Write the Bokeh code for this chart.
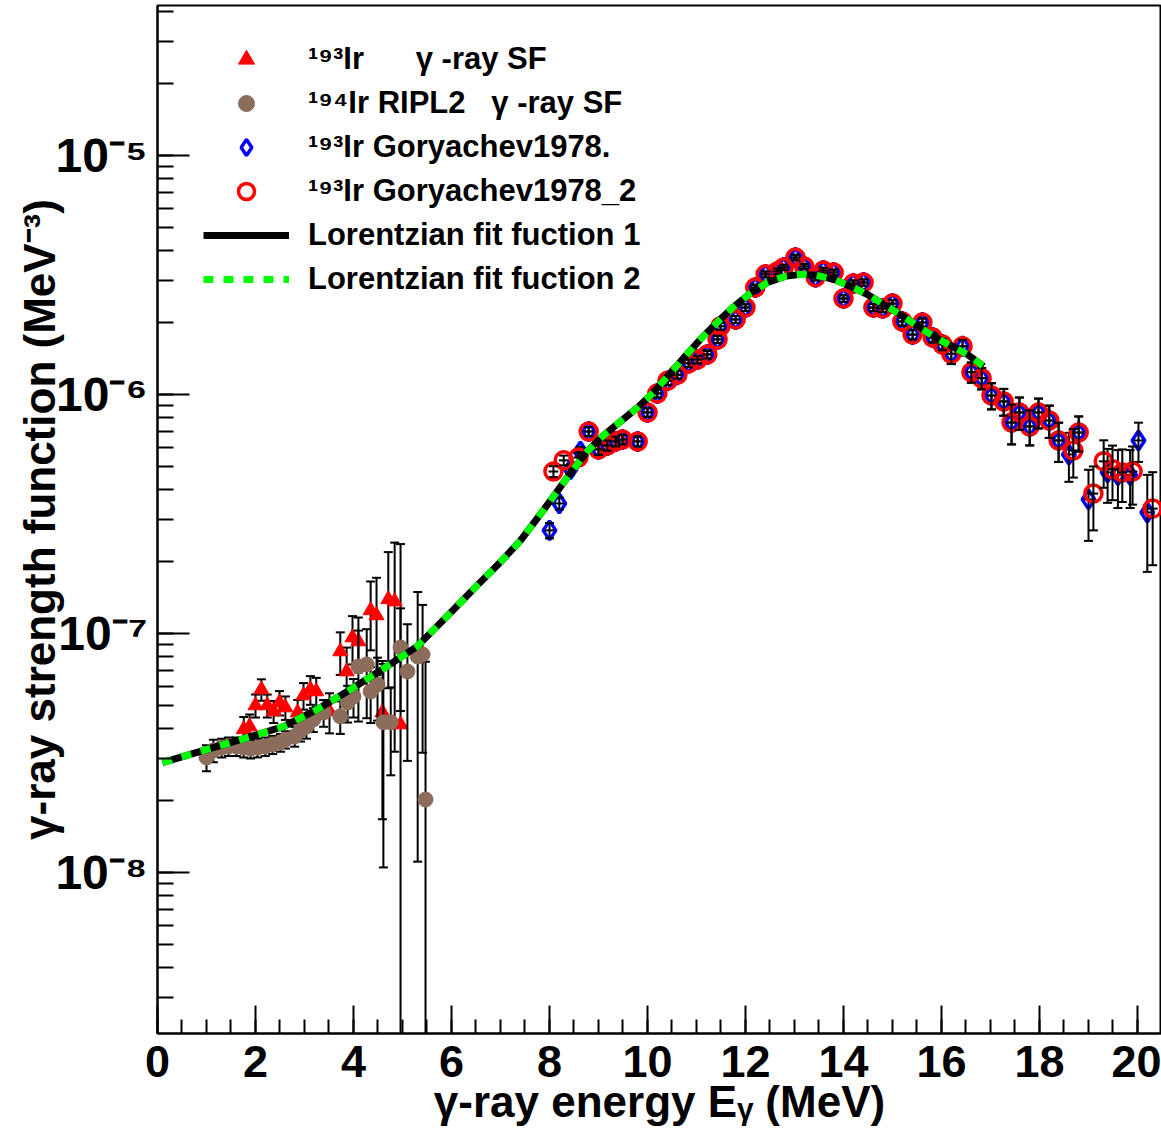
import numpy as np
from bokeh.plotting import figure
from bokeh.models import ColumnDataSource, FixedTicker, CustomJSTickFormatter, Legend, LegendItem
from bokeh.embed import file_html
from bokeh.resources import INLINE

# ---------------- data ----------------
# 193Ir gamma-ray SF (red triangles)
tri_E = [1.76, 1.88, 2.00, 2.12, 2.24, 2.37, 2.49, 2.61, 2.86, 2.98, 3.12, 3.24, 3.51,
         3.73, 3.86, 3.98, 4.10, 4.35, 4.47, 4.59, 4.71, 4.84, 4.96]
tri_sf = [3.97e-8, 4.08e-8, 5.00e-8, 5.83e-8, 5.00e-8, 4.72e-8, 5.14e-8, 4.90e-8, 4.67e-8,
          5.50e-8, 5.83e-8, 5.72e-8, 4.72e-8, 8.41e-8, 6.93e-8, 9.62e-8, 9.26e-8, 1.25e-7,
          1.19e-7, 4.67e-8, 1.39e-7, 1.36e-7, 4.16e-8]
tri_err = [0.5e-8, 0.5e-8, 0.55e-8, 0.6e-8, 0.55e-8, 0.5e-8, 0.6e-8, 0.55e-8, 0.6e-8,
           0.7e-8, 0.8e-8, 0.8e-8, 0.9e-8, 1.7e-8, 1.8e-8, 2.2e-8, 2.4e-8, 4.0e-8,
           5.2e-8, 3.0e-8, 8.0e-8, 10.4e-8, 19.5e-8]

# 194Ir RIPL2 gamma-ray SF (brown circles)
rip_E = [1.00, 1.14, 1.31, 1.45, 1.61, 1.76, 1.90, 2.04, 2.20, 2.35, 2.51, 2.61, 2.80,
         2.92, 3.04, 3.18, 3.39, 3.73, 3.88, 4.00, 4.10, 4.27, 4.35, 4.49, 4.61, 4.76,
         4.96, 5.10, 5.31, 5.41, 5.47]
rip_sf = [3.03e-8, 3.24e-8, 3.33e-8, 3.37e-8, 3.37e-8, 3.33e-8, 3.30e-8, 3.33e-8, 3.37e-8,
          3.43e-8, 3.50e-8, 3.60e-8, 3.71e-8, 3.93e-8, 4.08e-8, 4.37e-8, 4.67e-8, 4.50e-8,
          5.14e-8, 5.45e-8, 7.28e-8, 7.42e-8, 5.72e-8, 6.12e-8, 4.25e-8, 4.25e-8, 8.74e-8,
          6.93e-8, 8.01e-8, 8.17e-8, 2.02e-8]
rip_err = [0.38e-8, 0.35e-8, 0.3e-8, 0.3e-8, 0.3e-8, 0.3e-8, 0.3e-8, 0.3e-8, 0.3e-8,
           0.3e-8, 0.3e-8, 0.3e-8, 0.35e-8, 0.4e-8, 0.45e-8, 0.5e-8, 0.6e-8, 0.7e-8,
           0.9e-8, 1.0e-8, 3.0e-8, 3.0e-8, 1.5e-8, 1.8e-8, 3.2e-8, 1.7e-8, 4.0e-8,
           4.0e-8, 6.9e-8, 5.0e-8, 5.6e-8]

# 193Ir Goryachev1978 (blue diamonds)
g1_E = [8.00, 8.20, 8.43, 8.63, 8.80, 9.00, 9.18, 9.35, 9.49, 9.80, 10.00, 10.20, 10.41,
        10.61, 10.84, 11.02, 11.22, 11.43, 11.49, 11.80, 12.00, 12.20, 12.41, 12.65, 12.78,
        13.02, 13.20, 13.43, 13.59, 13.80, 14.00, 14.20, 14.41, 14.61, 14.80, 15.00, 15.20,
        15.41, 15.61, 15.82, 16.02, 16.20, 16.43, 16.61, 16.82, 17.02, 17.27, 17.43, 17.59,
        17.80, 17.98, 18.20, 18.39, 18.60, 18.80, 19.00, 19.39, 19.60, 19.85, 20.02, 20.20]
g1_sf = [2.70e-7, 3.50e-7, 4.86e-7, 5.77e-7, 7.00e-7, 5.89e-7, 6.12e-7, 6.36e-7, 6.48e-7,
         6.36e-7, 8.41e-7, 1.01e-6, 1.14e-6, 1.21e-6, 1.35e-6, 1.40e-6, 1.47e-6, 1.70e-6,
         1.93e-6, 2.06e-6, 2.31e-6, 2.80e-6, 3.18e-6, 3.27e-6, 3.40e-6, 3.74e-6, 3.43e-6,
         3.09e-6, 3.30e-6, 3.24e-6, 2.52e-6, 2.91e-6, 2.94e-6, 2.31e-6, 2.29e-6, 2.40e-6,
         2.02e-6, 1.78e-6, 2.00e-6, 1.73e-6, 1.62e-6, 1.48e-6, 1.59e-6, 1.24e-6, 1.17e-6,
         9.90e-7, 9.35e-7, 7.63e-7, 8.41e-7, 7.35e-7, 8.41e-7, 7.78e-7, 6.42e-7, 5.61e-7,
         6.93e-7, 3.64e-7, 4.72e-7, 4.60e-7, 4.60e-7, 6.42e-7, 3.21e-7]
g1_err = [0.2e-7, 0.2e-7, 0.25e-7, 0.25e-7, 0.3e-7, 0.3e-7, 0.3e-7, 0.3e-7, 0.3e-7,
          0.3e-7, 0.35e-7, 0.4e-7, 0.45e-7, 0.45e-7, 0.5e-7, 0.5e-7, 0.55e-7, 0.6e-7,
          0.65e-7, 0.7e-7, 0.75e-7, 0.8e-7, 0.9e-7, 0.9e-7, 0.9e-7, 1.0e-7, 0.9e-7,
          0.9e-7, 0.9e-7, 0.9e-7, 0.8e-7, 0.9e-7, 0.9e-7, 0.8e-7, 0.8e-7, 0.8e-7,
          0.8e-7, 0.8e-7, 0.8e-7, 0.8e-7, 0.9e-7, 1.4e-7, 1.0e-7, 1.2e-7, 1.2e-7,
          1.24e-7, 1.2e-7, 1.45e-7, 1.3e-7, 1.23e-7, 1.2e-7, 1.2e-7, 1.2e-7, 1.3e-7,
          1.16e-7, 1.2e-7, 1.2e-7, 1.25e-7, 1.25e-7, 1.2e-7, 1.4e-7]

# 193Ir Goryachev1978_2 (red open circles)
g2_E = [8.08, 8.29, 8.59, 8.80, 9.00, 9.18, 9.35, 9.49, 9.80, 10.00, 10.20, 10.41, 10.61,
        10.84, 11.02, 11.22, 11.43, 11.49, 11.80, 12.00, 12.20, 12.41, 12.65, 12.78, 13.02,
        13.20, 13.43, 13.59, 13.80, 14.00, 14.20, 14.41, 14.61, 14.80, 15.00, 15.20, 15.41,
        15.61, 15.82, 16.02, 16.20, 16.43, 16.61, 16.82, 17.02, 17.27, 17.43, 17.59, 17.80,
        17.98, 18.20, 18.39, 18.69, 18.80, 19.10, 19.31, 19.49, 19.69, 19.90, 20.31]
g2_sf = [4.76e-7, 5.30e-7, 5.45e-7, 7.00e-7, 5.89e-7, 6.12e-7, 6.36e-7, 6.48e-7, 6.36e-7,
         8.41e-7, 1.01e-6, 1.14e-6, 1.21e-6, 1.35e-6, 1.40e-6, 1.47e-6, 1.70e-6, 1.93e-6,
         2.06e-6, 2.31e-6, 2.80e-6, 3.18e-6, 3.27e-6, 3.40e-6, 3.74e-6, 3.43e-6, 3.09e-6,
         3.30e-6, 3.24e-6, 2.52e-6, 2.91e-6, 2.94e-6, 2.31e-6, 2.29e-6, 2.40e-6, 2.02e-6,
         1.78e-6, 2.00e-6, 1.73e-6, 1.62e-6, 1.48e-6, 1.59e-6, 1.24e-6, 1.17e-6, 9.90e-7,
         9.35e-7, 7.63e-7, 8.41e-7, 7.35e-7, 8.41e-7, 7.78e-7, 6.42e-7, 5.83e-7, 6.93e-7,
         3.85e-7, 5.25e-7, 4.86e-7, 4.72e-7, 4.76e-7, 3.33e-7]
g2_err = [0.25e-7, 0.25e-7, 0.25e-7, 0.3e-7, 0.3e-7, 0.3e-7, 0.3e-7, 0.3e-7, 0.3e-7,
          0.35e-7, 0.4e-7, 0.45e-7, 0.45e-7, 0.5e-7, 0.5e-7, 0.55e-7, 0.6e-7, 0.65e-7,
          0.7e-7, 0.75e-7, 0.8e-7, 0.9e-7, 0.9e-7, 0.9e-7, 1.0e-7, 0.9e-7, 0.9e-7,
          0.9e-7, 0.9e-7, 0.8e-7, 0.9e-7, 0.9e-7, 0.8e-7, 0.8e-7, 0.8e-7, 0.8e-7,
          0.8e-7, 0.8e-7, 0.8e-7, 0.9e-7, 1.4e-7, 1.0e-7, 1.2e-7, 1.2e-7, 1.24e-7,
          1.2e-7, 1.45e-7, 1.3e-7, 1.23e-7, 1.2e-7, 1.2e-7, 1.2e-7, 1.34e-7, 1.16e-7,
          1.15e-7, 1.18e-7, 1.25e-7, 1.17e-7, 1.3e-7, 1.4e-7]
x_half_err = 0.1

# Lorentzian fit function (curve)
fit_E = [0.10, 0.60, 1.22, 1.90, 2.57, 3.25, 3.94, 4.60, 5.30, 5.98, 6.50, 7.00, 7.41,
         7.75, 8.08, 8.42, 8.77, 9.10, 9.45, 9.80, 10.12, 10.41, 10.75, 11.08, 11.42,
         11.76, 12.10, 12.45, 12.80, 13.12, 13.45, 13.80, 14.15, 14.49, 14.82, 15.16,
         15.50, 15.84, 16.19, 16.53, 16.86]
fit_sf = [2.88e-8, 3.09e-8, 3.37e-8, 3.70e-8, 4.08e-8, 4.80e-8, 5.83e-8, 7.10e-8, 8.83e-8,
          1.22e-7, 1.57e-7, 1.99e-7, 2.45e-7, 3.03e-7, 3.74e-7, 4.67e-7, 5.77e-7, 6.74e-7,
          7.71e-7, 8.82e-7, 1.02e-6, 1.19e-6, 1.43e-6, 1.70e-6, 2.00e-6, 2.33e-6, 2.65e-6,
          2.94e-6, 3.12e-6, 3.18e-6, 3.15e-6, 3.03e-6, 2.83e-6, 2.62e-6, 2.38e-6, 2.16e-6,
          1.94e-6, 1.75e-6, 1.60e-6, 1.47e-6, 1.31e-6]

x_ticks = [0, 2, 4, 6, 8, 10, 12, 14, 16, 18, 20]
y_ticks = [1e-8, 1e-7, 1e-6, 1e-5]

legend_labels = ["¹⁹³Ir      γ -ray SF", "¹⁹⁴Ir RIPL2   γ -ray SF", "¹⁹³Ir Goryachev1978.",
                 "¹⁹³Ir Goryachev1978_2", "Lorentzian fit fuction 1", "Lorentzian fit fuction 2"]

# ---------------- figure ----------------
SANS = "Liberation Sans"
p = figure(width=1161, height=1145, y_axis_type="log",
           x_range=(0, 20.49), y_range=(2.12e-9, 4.24e-5),
           output_backend="svg", toolbar_location=None,
           min_border_left=157, min_border_right=0, min_border_top=5, min_border_bottom=112)
p.grid.visible = False
p.outline_line_color = "black"
p.outline_line_width = 2
p.background_fill_color = "white"
p.border_fill_color = "white"


def err_bars(E, v, e, xerr=None):
    E = np.asarray(E, float)
    v = np.asarray(v, float)
    e = np.asarray(e, float)
    up = v + e
    lo = np.maximum(v - e, 1e-13)
    p.segment(x0=E, y0=lo, x1=E, y1=up, line_color="black", line_width=2)
    p.scatter(x=E, y=up, marker="dash", size=9, line_color="black", line_width=2)
    p.scatter(x=E, y=lo, marker="dash", size=9, line_color="black", line_width=2)
    if xerr is not None:
        p.segment(x0=E - xerr, y0=v, x1=E + xerr, y1=v, line_color="black", line_width=2)


err_bars(tri_E, tri_sf, tri_err)
r_tri = p.scatter(x=tri_E, y=tri_sf, marker="triangle", size=15, fill_color="red", line_color="red")
err_bars(rip_E, rip_sf, rip_err)
r_rip = p.scatter(x=rip_E, y=rip_sf, marker="circle", size=15, fill_color="#8c6d5c", line_color="#8c6d5c")
r_g1 = p.scatter(x=g1_E, y=g1_sf, marker="diamond", size=19, fill_color="white", line_color="blue", line_width=3.5)
err_bars(g1_E, g1_sf, g1_err, x_half_err)
r_g2 = p.scatter(x=g2_E, y=g2_sf, marker="circle", size=17, fill_color=None, line_color="red", line_width=3.5)
err_bars(g2_E, g2_sf, g2_err, x_half_err)
r_fit1 = p.line(x=fit_E, y=fit_sf, line_color="black", line_width=7, line_join="round")
r_fit2 = p.line(x=fit_E, y=fit_sf, line_color="#00ff00", line_width=7, line_dash="10 10")

legend = Legend(items=[LegendItem(label=legend_labels[0], renderers=[r_tri]),
                       LegendItem(label=legend_labels[1], renderers=[r_rip]),
                       LegendItem(label=legend_labels[2], renderers=[r_g1]),
                       LegendItem(label=legend_labels[3], renderers=[r_g2]),
                       LegendItem(label=legend_labels[4], renderers=[r_fit1]),
                       LegendItem(label=legend_labels[5], renderers=[r_fit2])],
                location=(46, 734), padding=0, margin=0, spacing=4,
                glyph_width=86, glyph_height=40, label_height=40, label_standoff=19,
                label_text_font=SANS, label_text_font_style="bold", label_text_color="black",
                label_text_font_size="31px", border_line_color=None, background_fill_alpha=0)
p.add_layout(legend)

# x axis
xa = p.xaxis[0]
xa.ticker = FixedTicker(ticks=x_ticks, minor_ticks=list(np.arange(0, 20.5, 0.5)))
xa.major_tick_in = 28
xa.major_tick_out = 0
xa.minor_tick_in = 14
xa.minor_tick_out = 0
xa.major_tick_line_width = 2
xa.minor_tick_line_width = 2
xa.axis_line_width = 2
xa.major_label_standoff = 12
xa.major_label_text_font = SANS
xa.major_label_text_font_style = "bold"
xa.major_label_text_font_size = "45px"
xa.major_label_text_color = "black"
xa.axis_label = "γ-ray energy Eᵧ (MeV)"
xa.axis_label_text_font = SANS
xa.axis_label_text_font_style = "bold"
xa.axis_label_text_font_size = "44px"
xa.axis_label_text_color = "black"
xa.axis_label_standoff = -3

# y axis
ya = p.yaxis[0]
ya.ticker = FixedTicker(ticks=y_ticks,
                        minor_ticks=[m * 10.0 ** k for k in range(-9, -4) for m in range(1, 10)])
ya.formatter = CustomJSTickFormatter(code="""
const e = Math.round(Math.log10(tick));
const sup = {'-': '\u207b', '0': '\u2070', '1': '\u00b9', '2': '\u00b2', '3': '\u00b3',
             '4': '\u2074', '5': '\u2075', '6': '\u2076', '7': '\u2077', '8': '\u2078', '9': '\u2079'};
return '10' + String(e).split('').map(c => sup[c]).join('');
""")
ya.major_tick_in = 32
ya.major_tick_out = 0
ya.minor_tick_in = 16
ya.minor_tick_out = 0
ya.major_tick_line_width = 2
ya.minor_tick_line_width = 2
ya.axis_line_width = 2
ya.major_label_standoff = 10
ya.major_label_text_font = SANS
ya.major_label_text_font_style = "bold"
ya.major_label_text_font_size = "48px"
ya.major_label_text_color = "black"
ya.axis_label = "γ-ray strength function (MeV⁻³)"
ya.axis_label_text_font = SANS
ya.axis_label_text_font_style = "bold"
ya.axis_label_text_font_size = "44px"
ya.axis_label_text_color = "black"
ya.axis_label_standoff = -12

open("out.html", "w", encoding="utf-8").write(file_html(p, INLINE))
